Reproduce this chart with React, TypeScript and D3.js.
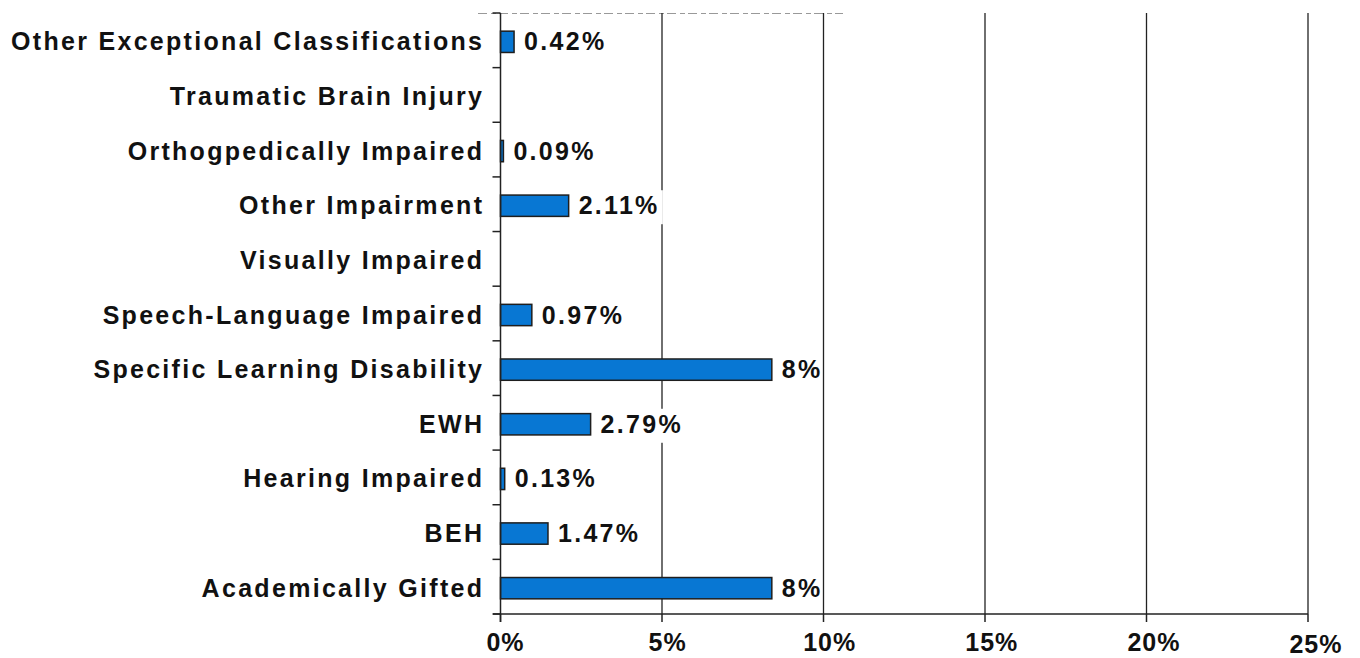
import React from "react";
import * as d3 from "d3";

const categories = [
  "Other Exceptional Classifications",
  "Traumatic Brain Injury",
  "Orthogpedically Impaired",
  "Other Impairment",
  "Visually Impaired",
  "Speech-Language Impaired",
  "Specific Learning Disability",
  "EWH",
  "Hearing Impaired",
  "BEH",
  "Academically Gifted",
];
const values = [0.42, 0, 0.09, 2.11, 0, 0.97, 8.4, 2.79, 0.13, 1.47, 8.4];
const valueLabels = ["0.42%", "", "0.09%", "2.11%", "", "0.97%", "8%", "2.79%", "0.13%", "1.47%", "8%"];
const xTicks = [0, 5, 10, 15, 20, 25];
const xTickLabels = ["0%", "5%", "10%", "15%", "20%", "25%"];

const W = 1360;
const H = 658;
const left = 500.5;
const right = 1308;
const top = 13;
const bottom = 614;
const FONT = "'Liberation Sans', Arial, Helvetica, sans-serif";
const LS = 2.3;

export default function App() {
  const x = d3.scaleLinear().domain([0, 25]).range([left, right]);
  const y = d3.scaleBand<string>().domain(categories).range([top, bottom]).paddingInner(0.61).paddingOuter(0.305);
  const band = d3.scaleBand<string>().domain(categories).range([top, bottom]);
  const bw = y.bandwidth();
  const off = 1.5;

  return (
    <div style={{ position: "absolute", left: 0, top: 0 }}>
      <svg width={W} height={H} style={{ display: "block", background: "#fff" }}>
        {/* remnant dashed line at top */}
        <line x1={478} x2={843} y1={13.5} y2={13.5} stroke="#999" strokeWidth={1} strokeDasharray="9,4,5,3" />
        {/* gridlines */}
        {xTicks.slice(1).map((t) => (
          <line key={"g" + t} x1={x(t)} x2={x(t)} y1={top} y2={bottom} stroke="#222" strokeWidth={1.3} />
        ))}
        {/* bars */}
        {categories.map((c, i) =>
          values[i] > 0 ? (
            <rect
              key={"b" + c}
              x={x(0)}
              y={(y(c) as number) + off}
              width={Math.max(x(values[i]) - x(0), 2)}
              height={bw}
              fill="#0877d3"
              stroke="#1e1e1e"
              strokeWidth={1.5}
            />
          ) : null
        )}
        {/* value labels with white boxes */}
        {categories.map((c, i) => {
          if (!valueLabels[i]) return null;
          const cy = (band(c) as number) + band.bandwidth() / 2;
          const x0 = x(values[i]) + 10;
          const w = valueLabels[i].length * 14 + (valueLabels[i].length - 1) * LS;
          return (
            <g key={"v" + c}>
              <rect x={x0 - 7} y={cy - 14} width={w + 12} height={34} fill="#fff" />
              <text
                x={x0}
                y={cy + 10}
                fontFamily={FONT}
                fontWeight="bold"
                fontSize={25}
                letterSpacing={LS}
                fill="#111"
              >
                {valueLabels[i]}
              </text>
            </g>
          );
        })}
        {/* y axis */}
        <line x1={left} x2={left} y1={top} y2={bottom + 8} stroke="#222" strokeWidth={1.5} />
        {[...categories.map((c) => band(c) as number), bottom].map((t, i) => (
          <line key={"yt" + i} x1={left - 8} x2={left} y1={t} y2={t} stroke="#222" strokeWidth={1.5} />
        ))}
        {categories.map((c) => {
          const cy = (band(c) as number) + band.bandwidth() / 2;
          return (
            <text
              key={"yl" + c}
              x={482 + LS}
              y={cy + 10}
              textAnchor="end"
              fontFamily={FONT}
              fontWeight="bold"
              fontSize={25}
              letterSpacing={LS}
              fill="#111"
            >
              {c}
            </text>
          );
        })}
        {/* x axis */}
        <line x1={493} x2={right} y1={bottom} y2={bottom} stroke="#222" strokeWidth={1.5} />
        {xTicks.map((t) => (
          <line key={"xt" + t} x1={x(t)} x2={x(t)} y1={bottom} y2={bottom + 8} stroke="#222" strokeWidth={1.5} />
        ))}
        {xTicks.map((t, i) => (
          <text
            key={"xl" + t}
            x={x(t) + 5 + i * 0.6}
            y={651 + (i === 5 ? 2 : 0)}
            textAnchor="middle"
            fontFamily={FONT}
            fontWeight="bold"
            fontSize={25}
            letterSpacing={1}
            fill="#111"
          >
            {xTickLabels[i]}
          </text>
        ))}
      </svg>
    </div>
  );
}
